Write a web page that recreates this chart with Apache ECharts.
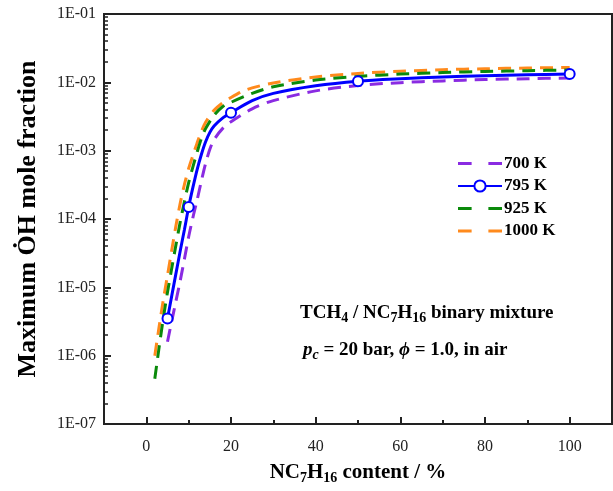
<!DOCTYPE html>
<html>
<head>
<meta charset="utf-8">
<script src="https://cdn.jsdelivr.net/npm/echarts@6/dist/echarts.min.js"></script>
<style>
  html, body { margin: 0; padding: 0; background: #fff; }
  #chart { width: 613px; height: 491px; }
</style>
</head>
<body>
<div id="chart"></div>
<script>
// n-heptane content in the TCH4 / NC7H16 blend (%) and peak OH mole fraction
const x700 = [5, 6, 7, 8, 9, 10, 11, 12, 13, 14, 15, 16, 18, 20, 25, 30, 40, 50, 60, 70, 80, 90, 100];
const y700 = [1.6e-6, 3.2e-6, 6.3e-6, 1.25e-5, 2.6e-5, 5.5e-5, 1.05e-4, 1.9e-4, 3.6e-4, 6.5e-4, 1.05e-3, 1.45e-3, 2.1e-3, 2.65e-3, 4.1e-3, 5.4e-3, 7.5e-3, 9.0e-3, 9.9e-3, 1.05e-2, 1.1e-2, 1.13e-2, 1.16e-2];

const x795 = [5, 6, 7, 8, 9, 10, 11, 12, 13, 14, 15, 16, 18, 20, 25, 30, 40, 50, 60, 70, 80, 90, 100];
const y795 = [3.5e-6, 7.5e-6, 1.6e-5, 3.4e-5, 7e-5, 1.5e-4, 2.9e-4, 5.3e-4, 8.8e-4, 1.35e-3, 1.85e-3, 2.3e-3, 3.0e-3, 3.6e-3, 5.4e-3, 6.9e-3, 8.9e-3, 1.04e-2, 1.13e-2, 1.2e-2, 1.25e-2, 1.29e-2, 1.32e-2];
// 795 K points carrying an open-circle marker
const x795Markers = [5, 10, 20, 50, 100];

const x925 = [2, 3, 4, 5, 6, 7, 8, 9, 10, 11, 12, 13, 14, 16, 18, 20, 25, 30, 40, 50, 60, 70, 80, 90, 100];
const y925 = [4.6e-7, 1.3e-6, 3.5e-6, 8.5e-6, 1.9e-5, 4.2e-5, 9e-5, 1.8e-4, 3.4e-4, 5.8e-4, 9.5e-4, 1.5e-3, 2.1e-3, 3.3e-3, 4.4e-3, 5.1e-3, 6.9e-3, 8.6e-3, 1.08e-2, 1.22e-2, 1.32e-2, 1.39e-2, 1.44e-2, 1.48e-2, 1.52e-2];

const x1000 = [2, 3, 4, 5, 6, 7, 8, 9, 10, 11, 12, 13, 14, 16, 18, 20, 22.5, 25, 30, 40, 50, 60, 70, 80, 90, 100];
const y1000 = [1.0e-6, 2.6e-6, 6.5e-6, 1.5e-5, 3.5e-5, 8e-5, 1.7e-4, 3.2e-4, 5.5e-4, 8.5e-4, 1.3e-3, 1.9e-3, 2.6e-3, 3.9e-3, 5e-3, 6e-3, 7.3e-3, 8.3e-3, 9.8e-3, 1.2e-2, 1.35e-2, 1.45e-2, 1.53e-2, 1.58e-2, 1.62e-2, 1.65e-2];

const seriesNames = ['700 K', '795 K', '925 K', '1000 K'];
const xMajorTicks = [0, 20, 40, 60, 80, 100];
const xMinorTicks = [10, 30, 50, 70, 90];
const yTickLabels = ['1E-07', '1E-06', '1E-05', '1E-04', '1E-03', '1E-02', '1E-01'];
// minor ticks at 2..9 within each decade, expressed as decade exponents
const yMinorExponents = [];
for (let e = -7; e < -1; e++) {
  for (let m = 2; m <= 9; m++) yMinorExponents.push(e + Math.log10(m));
}

const FONT = '"Liberation Serif", "Times New Roman", serif';
const AXIS_COLOR = '#222';
const DASH = [13, 8];
// legend glyph for the dashed series: two short dashes
const DASH_ICON = 'path://M0,0H13V3H0Z M29,0H42V3H29Z';

function pairs(xs, ys) { return xs.map((x, i) => [x, ys[i]]); }

const data795 = x795.map((x, i) => {
  const item = { value: [x, y795[i]] };
  if (x795Markers.indexOf(x) < 0) item.symbol = 'none';
  return item;
});

const chart = echarts.init(document.getElementById('chart'), null, { renderer: 'canvas' });

const subStyle = { fontFamily: FONT, fontWeight: 'bold', fontSize: 14, padding: [9, 0, 0, 0] };

function dashed(name, xs, ys, color, z) {
  return {
    name: name, type: 'line', smooth: 0.3,
    symbol: 'none',
    data: pairs(xs, ys),
    lineStyle: { color: color, width: 3, type: DASH },
    itemStyle: { color: color }, z: z
  };
}

chart.setOption({
  animation: false,
  backgroundColor: '#fff',
  grid: {
    left: 104, right: 1, top: 14, bottom: 67,
    show: true, borderColor: AXIS_COLOR, borderWidth: 2, backgroundColor: 'transparent'
  },
  legend: {
    left: 452, top: 150, orient: 'vertical',
    itemWidth: 44, itemHeight: 14, itemGap: 5.5,
    textStyle: { fontFamily: FONT, fontWeight: 'bold', fontSize: 17, color: '#000', padding: [0, 0, 0, -3] },
    data: [
      { name: seriesNames[0], icon: DASH_ICON },
      { name: seriesNames[1] },
      { name: seriesNames[2], icon: DASH_ICON },
      { name: seriesNames[3], icon: DASH_ICON }
    ]
  },
  xAxis: [{
    type: 'value', min: -10, max: 110,
    name: '{b|NC}{s|7}{b|H}{s|16}{b| content / %}',
    nameLocation: 'middle', nameGap: 37,
    nameTextStyle: {
      rich: {
        b: { fontFamily: FONT, fontWeight: 'bold', fontSize: 21, color: '#000' },
        s: Object.assign({}, subStyle, { padding: [10, 0, 0, 0], color: '#000' })
      }
    },
    axisLine: { onZero: false, lineStyle: { color: AXIS_COLOR, width: 2 } },
    axisTick: { inside: true, length: 7, customValues: xMajorTicks, lineStyle: { color: AXIS_COLOR, width: 2 } },
    axisLabel: { customValues: xMajorTicks, fontFamily: FONT, fontSize: 16, color: '#222', margin: 15 },
    splitLine: { show: false }
  }, {
    type: 'value', min: -10, max: 110, position: 'bottom',
    axisLine: { show: false, onZero: false },
    axisTick: { inside: true, length: 4, customValues: xMinorTicks, lineStyle: { color: AXIS_COLOR, width: 2 } },
    axisLabel: { show: false },
    splitLine: { show: false }
  }],
  yAxis: [{
    type: 'log', logBase: 10, min: 1e-7, max: 1e-1, position: 'left',
    name: 'Maximum \u022EH mole fraction',
    nameLocation: 'middle', nameGap: 63, nameRotate: 90,
    nameTextStyle: { fontFamily: FONT, fontWeight: 'bold', fontSize: 26, color: '#000' },
    axisLine: { onZero: false, lineStyle: { color: AXIS_COLOR, width: 2 } },
    axisTick: { inside: true, length: 7, lineStyle: { color: AXIS_COLOR, width: 2 } },
    axisLabel: {
      fontFamily: FONT, fontSize: 16, color: '#222', margin: 8,
      formatter: v => yTickLabels[Math.round(Math.log10(v)) + 7] || ''
    },
    splitLine: { show: false }
  }, {
    // decade-exponent axis used only for the minor tick marks
    type: 'value', min: -7, max: -1, position: 'left',
    axisLine: { show: false, onZero: false },
    axisTick: { inside: true, length: 4, customValues: yMinorExponents, lineStyle: { color: AXIS_COLOR, width: 1.5 } },
    axisLabel: { show: false },
    splitLine: { show: false }
  }],
  series: [
    dashed(seriesNames[0], x700, y700, '#8a2be2', 2),
    dashed(seriesNames[3], x1000, y1000, '#ff8a1c', 2),
    dashed(seriesNames[2], x925, y925, '#0a8a0a', 3),
    {
      name: seriesNames[1], type: 'line', smooth: 0.3,
      symbol: 'circle', symbolSize: 10, showAllSymbol: true,
      data: data795,
      lineStyle: { color: '#0000ff', width: 3 },
      itemStyle: { color: '#fff', borderColor: '#0000ff', borderWidth: 2 }, z: 4
    }
  ],
  graphic: [{
    type: 'text', left: 300, top: 304,
    style: {
      text: '{b|TCH}{s|4}{b| / NC}{s|7}{b|H}{s|16}{b| binary mixture}',
      rich: {
        b: { fontFamily: FONT, fontWeight: 'bold', fontSize: 19, fill: '#000' },
        s: Object.assign({}, subStyle, { fill: '#000' })
      }
    }
  }, {
    type: 'text', left: 303, top: 341,
    style: {
      text: '{i|p}{is|c}{b| = 20 bar, }{i|\u03D5}{b| = 1.0, in air}',
      rich: {
        b: { fontFamily: FONT, fontWeight: 'bold', fontSize: 19, fill: '#000' },
        i: { fontFamily: FONT, fontWeight: 'bold', fontStyle: 'italic', fontSize: 19, fill: '#000' },
        is: Object.assign({}, subStyle, { fontStyle: 'italic', fill: '#000' })
      }
    }
  }]
});
</script>
</body>
</html>
